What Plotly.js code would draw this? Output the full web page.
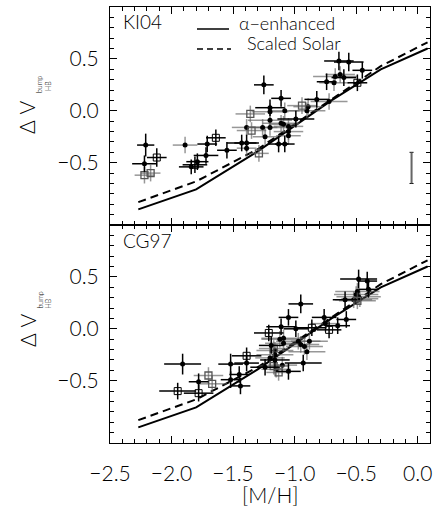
<!DOCTYPE html>
<html>
<head>
<meta charset="utf-8">
<script src="https://cdn.plot.ly/plotly-3.0.1.min.js"></script>
<style>html,body{margin:0;padding:0;background:#fff}#chart{width:436px;height:509px}</style>
</head>
<body>
<div id="chart"></div>
<script>
// ---- model curves ([M/H] vs ΔV bump-HB) ----
var modelMH  = [-2.27, -1.80, -1.30, -0.70, -0.30, 0.08];
var alphaDV  = [-0.95, -0.757, -0.39, 0.10, 0.40, 0.60];
var solarDV  = [-0.88, -0.68, -0.37, 0.11, 0.43, 0.66];

// ---- KI04 panel ----
var kiDotBlackX  = [-2.21, -2.22, -1.84, -1.79, -1.72, -1.71, -1.55, -1.25, -1.20, -1.11, -1.13, -1.08, -0.99, -0.82, -0.74, -0.64, -0.56, -0.45, -1.43, -1.39, -0.60];
var kiDotBlackY  = [-0.33, -0.51, -0.54, -0.49, -0.43, -0.32, -0.38, 0.25, 0.03, 0.12, -0.32, -0.32, -0.08, 0.11, 0.28, 0.48, 0.47, 0.39, -0.31, -0.31, 0.32];
var kiDotBlackEx = [0.07, 0.10, 0.10, 0.09, 0.10, 0.08, 0.08, 0.08, 0.12, 0.08, 0.08, 0.08, 0.15, 0.10, 0.08, 0.12, 0.12, 0.08, 0.12, 0.10, 0.10];
var kiDotBlackEy = [0.11, 0.08, 0.07, 0.08, 0.08, 0.08, 0.08, 0.09, 0.08, 0.08, 0.08, 0.08, 0.08, 0.08, 0.08, 0.09, 0.09, 0.08, 0.08, 0.08, 0.08];

var kiDotGrayX  = [-1.89, -1.39, -1.39, -1.26, -1.24, -1.20, -1.20, -1.20, -1.11, -1.09, -1.05, -1.05, -1.05, -1.08, -0.90, -0.89, -0.72, -0.67, -0.63, -0.68];
var kiDotGrayY  = [-0.33, -0.16, -0.36, -0.16, -0.25, -0.01, -0.09, -0.16, -0.12, -0.13, -0.20, -0.24, -0.15, 0.00, 0.00, 0.04, 0.09, 0.33, 0.35, 0.27];
var kiDotGrayEx = [0.10, 0.12, 0.08, 0.12, 0.10, 0.15, 0.18, 0.15, 0.15, 0.12, 0.12, 0.10, 0.12, 0.12, 0.15, 0.12, 0.15, 0.18, 0.12, 0.12];
var kiDotGrayEy = [0.08, 0.08, 0.08, 0.08, 0.08, 0.08, 0.08, 0.08, 0.08, 0.08, 0.08, 0.08, 0.08, 0.08, 0.08, 0.08, 0.08, 0.08, 0.08, 0.08];

var kiSqBlackX  = [-2.12, -1.81, -1.64, -0.49];
var kiSqBlackY  = [-0.45, -0.52, -0.26, 0.27];
var kiSqBlackEx = [0.08, 0.10, 0.08, 0.08];
var kiSqBlackEy = [0.09, 0.08, 0.08, 0.08];

var kiSqGrayX  = [-2.22, -2.17, -1.36, -1.35, -1.29, -0.94];
var kiSqGrayY  = [-0.62, -0.60, -0.03, -0.19, -0.41, 0.05];
var kiSqGrayEx = [0.08, 0.08, 0.12, 0.12, 0.08, 0.12];
var kiSqGrayEy = [0.08, 0.08, 0.08, 0.08, 0.08, 0.08];

// typical error bar shown in the KI04 panel
var repMH  = [-0.05];
var repDV  = [-0.55];
var repErr = [0.15];

// ---- CG97 panel ----
var cgDotBlackX  = [-1.91, -1.78, -1.52, -1.52, -1.45, -1.44, -1.39, -1.24, -1.19, -1.16, -1.11, -1.05, -1.05, -0.99, -0.95, -0.93, -0.76, -0.65, -0.58, -0.59, -0.48, -0.41, -0.40];
var cgDotBlackY  = [-0.34, -0.51, -0.34, -0.49, -0.44, -0.55, -0.33, -0.37, -0.16, -0.30, 0.02, 0.11, -0.41, 0.00, 0.24, -0.33, 0.11, 0.03, 0.09, 0.28, 0.48, 0.46, 0.38];
var cgDotBlackEx = [0.15, 0.08, 0.10, 0.08, 0.08, 0.08, 0.10, 0.12, 0.10, 0.12, 0.12, 0.08, 0.10, 0.10, 0.10, 0.15, 0.10, 0.10, 0.08, 0.10, 0.15, 0.08, 0.08];
var cgDotBlackEy = [0.10, 0.08, 0.10, 0.08, 0.08, 0.08, 0.08, 0.08, 0.08, 0.08, 0.08, 0.08, 0.08, 0.08, 0.09, 0.08, 0.08, 0.08, 0.08, 0.08, 0.09, 0.09, 0.08];

var cgDotGrayX  = [-1.16, -1.16, -1.12, -1.09, -1.09, -0.97, -0.95, -0.92, -0.90, -0.88, -0.75, -0.50, -0.49, -0.48, -0.47, -0.52, -1.20, -1.10, -1.15];
var cgDotGrayY  = [-0.25, -0.21, -0.10, -0.09, -0.14, -0.12, -0.15, -0.17, -0.22, -0.12, 0.05, 0.33, 0.36, 0.31, 0.29, 0.28, -0.28, -0.35, -0.39];
var cgDotGrayEx = [0.15, 0.15, 0.15, 0.18, 0.15, 0.18, 0.15, 0.15, 0.15, 0.15, 0.12, 0.18, 0.18, 0.18, 0.15, 0.15, 0.12, 0.12, 0.12];
var cgDotGrayEy = [0.08, 0.08, 0.08, 0.08, 0.08, 0.08, 0.08, 0.08, 0.08, 0.08, 0.08, 0.08, 0.08, 0.08, 0.08, 0.08, 0.08, 0.08, 0.08];

var cgSqBlackX  = [-1.95, -1.78, -1.39, -1.21, -0.86, -0.72];
var cgSqBlackY  = [-0.60, -0.62, -0.26, -0.04, 0.01, -0.01];
var cgSqBlackEx = [0.15, 0.12, 0.12, 0.12, 0.12, 0.10];
var cgSqBlackEy = [0.08, 0.08, 0.08, 0.08, 0.08, 0.08];

var cgSqGrayX  = [-1.70, -1.67, -1.17, -1.17, -1.13, -0.49];
var cgSqGrayY  = [-0.45, -0.53, -0.19, -0.36, -0.42, 0.27];
var cgSqGrayEx = [0.12, 0.12, 0.12, 0.12, 0.10, 0.15];
var cgSqGrayEy = [0.08, 0.08, 0.08, 0.08, 0.08, 0.08];

var xTicks = [-2.5, -2.0, -1.5, -1.0, -0.5, 0.0];
var yTicks = [-0.5, 0.0, 0.5];

// ---- styling ----
var FONT = 'Lato, Liberation Sans, Arial, sans-serif';
var FW = 300;
var GRAY = 'rgba(95,95,95,0.65)';
var BLACK = '#000';

function pts(x, y, ex, ey, kind, errColor, xa, ya) {
  var marker;
  if (kind === 'dot') marker = {symbol: 'circle', size: 5, color: '#000'};
  else if (kind === 'sqb') marker = {symbol: 'square-open', size: 7, color: '#000', line: {width: 1, color: '#000'}};
  else marker = {symbol: 'square-open', size: 7, color: '#555', line: {width: 1.3, color: '#555'}};
  return {
    type: 'scatter', mode: 'markers', x: x, y: y, xaxis: xa, yaxis: ya,
    marker: marker, showlegend: false, hoverinfo: 'skip',
    error_x: {type: 'data', array: ex, visible: true, color: errColor, thickness: 1.5, width: 0},
    error_y: {type: 'data', array: ey, visible: true, color: errColor, thickness: 1.5, width: 0}
  };
}
function model(y, dash, xa, ya) {
  return {type: 'scatter', mode: 'lines', x: modelMH, y: y, xaxis: xa, yaxis: ya,
    line: {color: '#000', width: 2, dash: dash}, showlegend: false, hoverinfo: 'skip'};
}

var data = [
  model(alphaDV, 'solid', 'x2', 'y2'),
  model(solarDV, '8px,5px', 'x2', 'y2'),
  pts(kiDotGrayX, kiDotGrayY, kiDotGrayEx, kiDotGrayEy, 'dot', GRAY, 'x2', 'y2'),
  pts(kiSqGrayX, kiSqGrayY, kiSqGrayEx, kiSqGrayEy, 'sqg', GRAY, 'x2', 'y2'),
  pts(kiDotBlackX, kiDotBlackY, kiDotBlackEx, kiDotBlackEy, 'dot', BLACK, 'x2', 'y2'),
  pts(kiSqBlackX, kiSqBlackY, kiSqBlackEx, kiSqBlackEy, 'sqb', BLACK, 'x2', 'y2'),
  {type: 'scatter', mode: 'markers', x: repMH, y: repDV, xaxis: 'x2', yaxis: 'y2',
   marker: {size: 0.1, color: 'rgba(0,0,0,0)'}, showlegend: false, hoverinfo: 'skip',
   error_y: {type: 'data', array: repErr, visible: true, color: '#000', thickness: 1, width: 2}},
  {type: 'scatter', mode: 'markers', x: repMH, y: repDV, xaxis: 'x2', yaxis: 'y2',
   marker: {size: 0.1, color: 'rgba(0,0,0,0)'}, showlegend: false, hoverinfo: 'skip',
   error_y: {type: 'data', array: repErr, visible: true, color: '#666', thickness: 2, width: 0}},

  model(alphaDV, 'solid', 'x', 'y'),
  model(solarDV, '8px,5px', 'x', 'y'),
  pts(cgDotGrayX, cgDotGrayY, cgDotGrayEx, cgDotGrayEy, 'dot', GRAY, 'x', 'y'),
  pts(cgSqGrayX, cgSqGrayY, cgSqGrayEx, cgSqGrayEy, 'sqg', GRAY, 'x', 'y'),
  pts(cgDotBlackX, cgDotBlackY, cgDotBlackEx, cgDotBlackEy, 'dot', BLACK, 'x', 'y'),
  pts(cgSqBlackX, cgSqBlackY, cgSqBlackEx, cgSqBlackEy, 'sqb', BLACK, 'x', 'y')
];

function xax(extra) {
  var a = {
    range: [-2.5, 0.1], tickvals: xTicks, tickformat: '.1f',
    ticks: 'inside', ticklen: 7, tickwidth: 1, tickcolor: '#000',
    minor: {dtick: 0.1, tick0: 0, ticks: 'inside', ticklen: 4, tickwidth: 1, tickcolor: '#000'},
    showline: true, linecolor: '#000', linewidth: 1, mirror: 'allticks',
    showgrid: false, zeroline: false,
    tickfont: {family: FONT, weight: FW, size: 21, color: '#000'}, ticklabelstandoff: 12
  };
  for (var k in extra) a[k] = extra[k];
  return a;
}
function yax(extra) {
  var a = {
    range: [-1.1, 1.0], tickvals: yTicks, tickformat: '.1f',
    ticks: 'inside', ticklen: 7, tickwidth: 1, tickcolor: '#000',
    minor: {dtick: 0.1, tick0: 0, ticks: 'inside', ticklen: 4, tickwidth: 1, tickcolor: '#000'},
    showline: true, linecolor: '#000', linewidth: 1, mirror: 'allticks',
    showgrid: false, zeroline: false,
    tickfont: {family: FONT, weight: FW, size: 21, color: '#000'}, ticklabelstandoff: 6
  };
  for (var k in extra) a[k] = extra[k];
  return a;
}

function px2x(px) { return (px - 110) / 320; }
function py2y(py) { return (443 - py) / 436; }

var ann = [];
function txt(t, px, py, size, angle, xanchor) {
  ann.push({text: t, xref: 'paper', yref: 'paper', x: px2x(px), y: py2y(py),
    xanchor: xanchor || 'center', yanchor: 'middle', showarrow: false, textangle: angle || 0,
    borderpad: 0,
    font: {family: FONT, weight: FW, size: size, color: '#000'}});
}
txt('KI04', 122, 21, 19, 0, 'left');
txt('CG97', 122, 240, 19, 0, 'left');
txt('\u03b1\u2212enhanced', 238, 23, 18, 0, 'left');
txt('Scaled Solar', 246, 43, 18, 0, 'left');
txt('\u0394 V', 27, 118, 21, -90);
txt('bump', 39, 85, 7, -90);
txt('HB', 47.5, 86.5, 7, -90);
txt('\u0394 V', 27, 331, 21, -90);
txt('bump', 39, 300.5, 7, -90);
txt('HB', 47.5, 304, 7, -90);
txt('[M/H]', 270, 494, 21, 0);

var shapes = [
  {type: 'line', xref: 'paper', yref: 'paper', x0: px2x(197), x1: px2x(229), y0: py2y(29), y1: py2y(29), line: {color: '#000', width: 1.5}},
  {type: 'line', xref: 'paper', yref: 'paper', x0: px2x(197), x1: px2x(231), y0: py2y(49), y1: py2y(49), line: {color: '#000', width: 1.5, dash: '6px,4px'}}
];

var layout = {
  width: 436, height: 509,
  margin: {l: 110, r: 6, t: 7, b: 66},
  paper_bgcolor: '#fff', plot_bgcolor: '#fff',
  showlegend: false,
  xaxis: xax({anchor: 'y', domain: [0, 1]}),
  xaxis2: xax({anchor: 'y2', domain: [0, 1], matches: 'x', showticklabels: false}),
  yaxis: yax({anchor: 'x', domain: [0, 0.5]}),
  yaxis2: yax({anchor: 'x2', domain: [0.5, 1]}),
  annotations: ann, shapes: shapes
};

Plotly.newPlot('chart', data, layout, {staticPlot: true, displayModeBar: false});
</script>
</body>
</html>
